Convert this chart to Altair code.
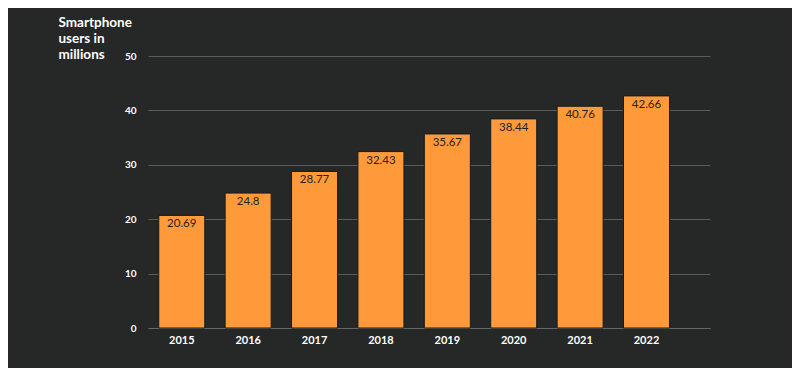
import altair as alt
import pandas as pd

years = ["2015", "2016", "2017", "2018", "2019", "2020", "2021", "2022"]
users = [20.69, 24.8, 28.77, 32.43, 35.67, 38.44, 40.76, 42.66]
labels = ["20.69", "24.8", "28.77", "32.43", "35.67", "38.44", "40.76", "42.66"]

df = pd.DataFrame({"year": years, "users": users, "label": labels})

x = alt.X("year:N", title=None, scale=alt.Scale(paddingInner=0.307, paddingOuter=0.386, align=0.21),
          axis=alt.Axis(labelAngle=0, labelColor="#ffffff", labelFont="Lato", labelFontWeight="bold",
                        labelFontSize=11, labelPadding=6, ticks=False, domainColor="#666666", grid=False))
y = alt.Y("users:Q", scale=alt.Scale(domain=[0, 50]),
          title=["Smartphone", "users in", "millions"],
          axis=alt.Axis(values=[0, 10, 20, 30, 40, 50], labelColor="#ffffff", labelFont="Lato",
                        labelFontWeight="bold", labelFontSize=10, labelPadding=12, ticks=False,
                        domain=False, gridColor="#5a5a5a", gridWidth=1,
                        titleAngle=0, titleAlign="left", titleBaseline="top", titleX=-90, titleY=-41,
                        titleColor="#ffffff", titleFont="Lato", titleFontSize=13.5, titleFontWeight="bold",
                        titleLineHeight=16))

bars = alt.Chart(df).mark_bar(color="#FE9A3A", stroke="#1a1a1a", strokeWidth=1).encode(x=x, y=y)
text = alt.Chart(df).mark_text(baseline="top", dy=3, color="#222222", font="Lato", fontSize=11.5).encode(
    x="year:N", y="users:Q", text="label:N")

chart = alt.layer(bars, text).properties(
    width=562, height=272, background="#262727",
    padding={"left": 140, "top": 48, "right": 82, "bottom": 40},
    autosize=alt.AutoSizeParams(type="none"),
).configure_view(stroke=None)

chart.save("out.html", embed_options={"renderer": "svg", "actions": False})
